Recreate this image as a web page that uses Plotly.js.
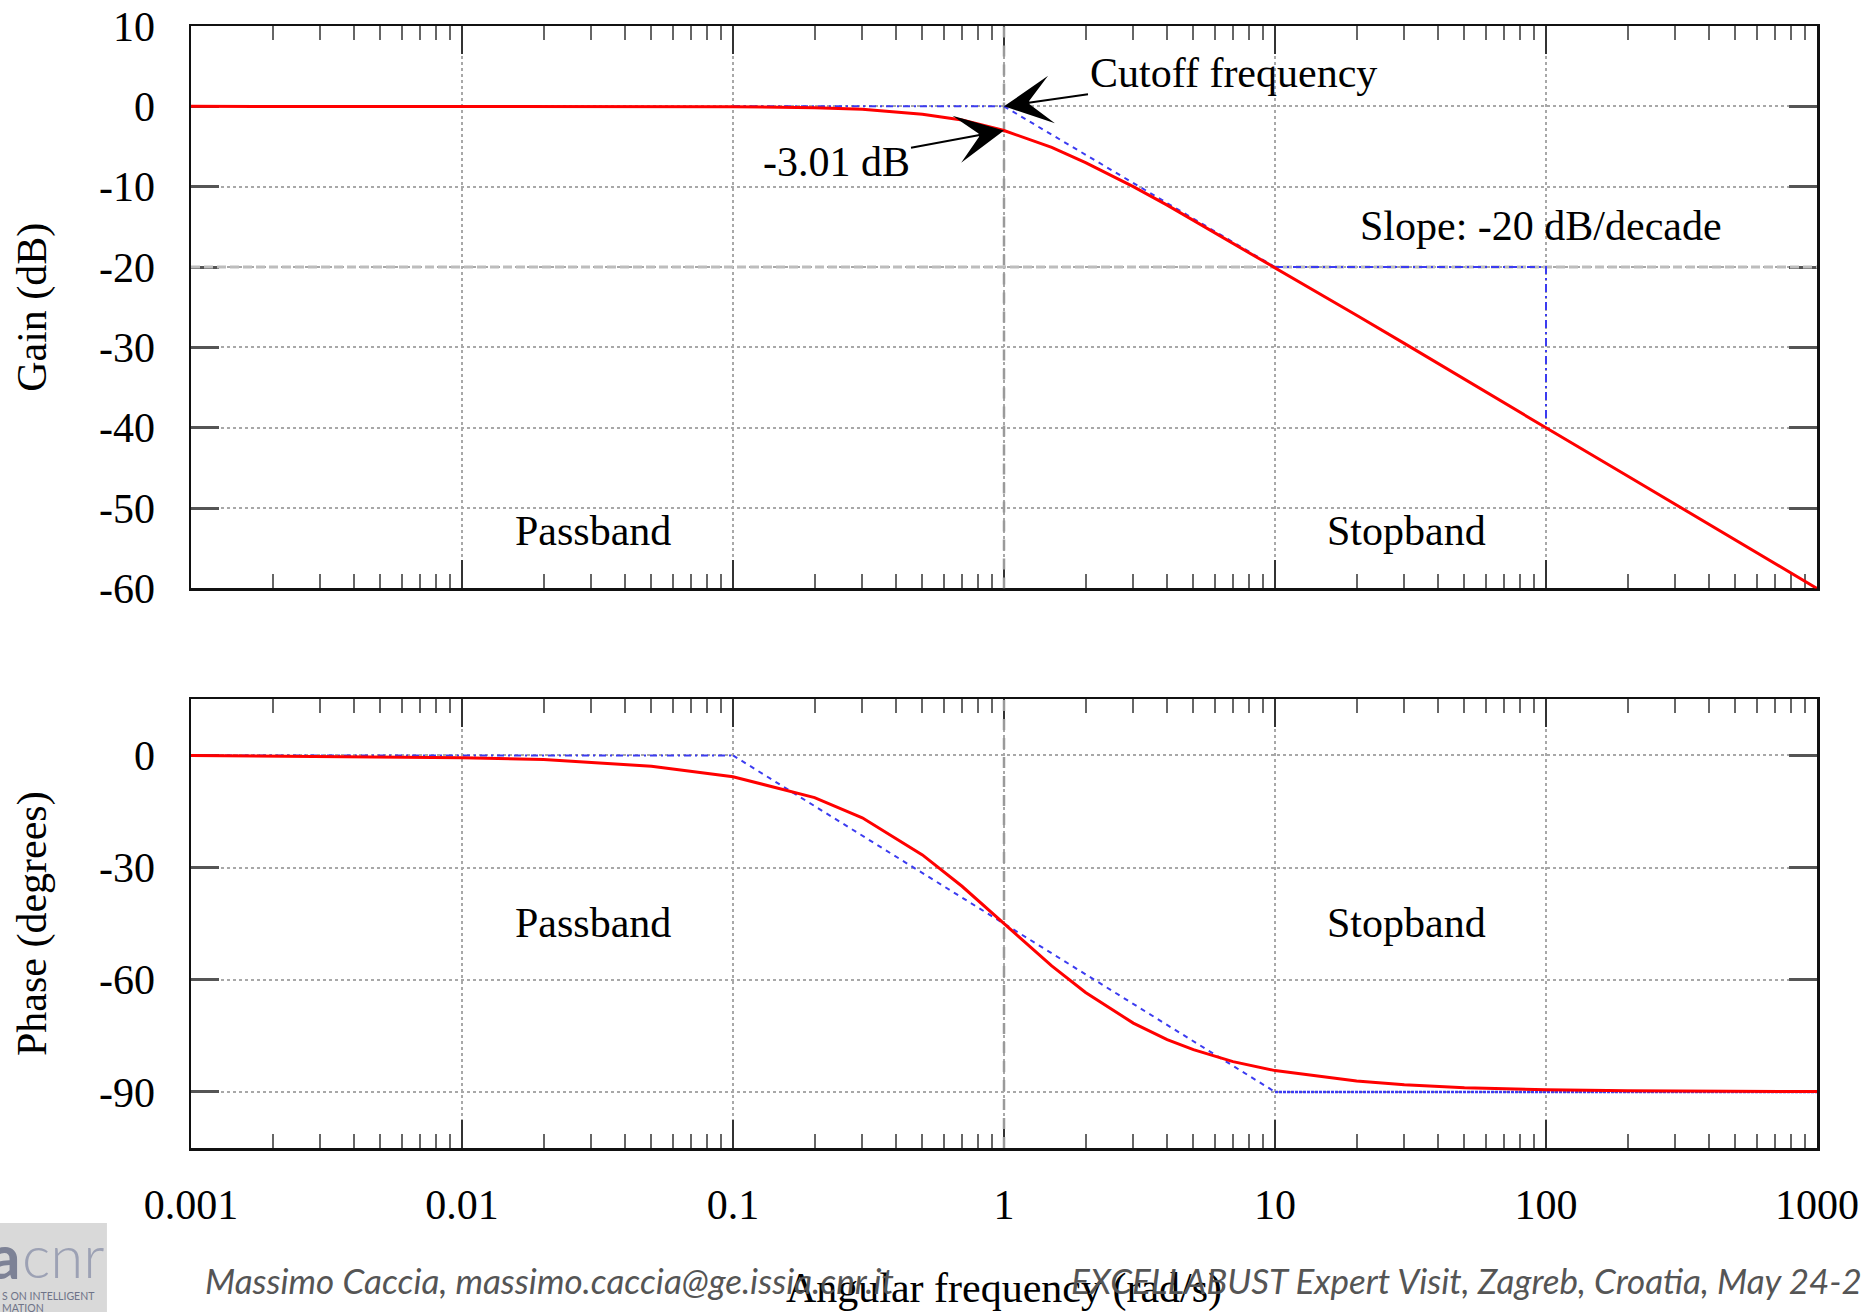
<!DOCTYPE html>
<html>
<head>
<meta charset="utf-8">
<script src="https://cdn.plot.ly/plotly-3.0.1.min.js"></script>
<style>
html,body{margin:0;padding:0;background:#fff;}
#chart{width:1868px;height:1312px;}
</style>
</head>
<body>
<div id="chart"></div>
<script>
// ---- data ----
const freq = [0.001, 0.01, 0.02, 0.05, 0.1, 0.2, 0.3, 0.5, 0.7, 1, 1.5, 2, 3, 4, 5, 7, 10, 20, 30, 50, 70, 100, 200, 300, 500, 700, 1000];
const gainDb = [0, 0, 0, -0.01, -0.04, -0.17, -0.37, -0.97, -1.7, -3.01, -5.1, -7.0, -10.0, -12.3, -14.2, -17.0, -20.0, -26.0, -29.5, -34.0, -36.9, -40.0, -46.0, -49.5, -54.0, -56.9, -60.0];
const phaseDeg = [-0.06, -0.6, -1.1, -2.9, -5.7, -11.3, -16.7, -26.6, -35.0, -45.0, -56.3, -63.4, -71.6, -76.0, -78.7, -81.9, -84.3, -87.1, -88.1, -88.9, -89.2, -89.4, -89.7, -89.8, -89.9, -89.9, -89.9];

// asymptotes
const gainFlatX = [0.1, 1];
const gainFlatY = [0, 0];
const gainSlopeX = [1, 10];
const gainSlopeY = [0, -20];
const slopeTriX = [10, 100, 100];
const slopeTriY = [-20, -20, -40];
const phaseFlatX = [0.001, 0.1];
const phaseFlatY = [0, 0];
const phaseSlopeX = [0.1, 10];
const phaseSlopeY = [0, -90];
const phaseEndX = [10, 1000];
const phaseEndY = [-90, -90];

const cutoffFreq = 1;
const cutoffGain = -3.01;
const refGainLine = -20;

// axes
const xRangeDec = [0.001, 1000];
const gainRange = [-60, 10];
const phaseRange = [-105, 15];
const xTickVals = [0.001, 0.01, 0.1, 1, 10, 100, 1000];
const xTickText = ['0.001', '0.01', '0.1', '1', '10', '100', '1000'];
const gainTickVals = [10, 0, -10, -20, -30, -40, -50, -60];
const gainTickText = ['10', '0', '-10', '-20', '-30', '-40', '-50', '-60'];
const phaseTickVals = [0, -30, -60, -90];
const phaseTickText = ['0', '-30', '-60', '-90'];

// minor tick positions (2..9 in each decade)
const minorTicks = [];
for (let d = -3; d < 3; d++) for (let k = 2; k <= 9; k++) minorTicks.push(k * Math.pow(10, d));

const SERIF = 'Liberation Serif, Times New Roman, serif';
const RED = '#ff0000';
const BLUE = '#3c3cf0';

const traces = [
  // cutoff vertical dashed lines
  {x: [cutoffFreq, cutoffFreq], y: gainRange, xaxis: 'x', yaxis: 'y', mode: 'lines',
   line: {color: '#9a9a9a', width: 2.5, dash: '11px,8px'}, hoverinfo: 'skip'},
  {x: [cutoffFreq, cutoffFreq], y: phaseRange, xaxis: 'x2', yaxis: 'y2', mode: 'lines',
   line: {color: '#9a9a9a', width: 2.5, dash: '11px,8px'}, hoverinfo: 'skip'},
  // -20 dB dashed reference line
  {x: xRangeDec, y: [refGainLine, refGainLine], xaxis: 'x', yaxis: 'y', mode: 'lines',
   line: {color: '#bdbdbd', width: 3, dash: '9px,4px'}, hoverinfo: 'skip'},
  // gain asymptotes
  {x: gainFlatX, y: gainFlatY, xaxis: 'x', yaxis: 'y', mode: 'lines',
   line: {color: BLUE, width: 2, dash: '7px,4px,2px,4px'}},
  {x: gainSlopeX, y: gainSlopeY, xaxis: 'x', yaxis: 'y', mode: 'lines',
   line: {color: BLUE, width: 2, dash: '5px,5px'}},
  {x: slopeTriX, y: slopeTriY, xaxis: 'x', yaxis: 'y', mode: 'lines',
   line: {color: BLUE, width: 2, dash: '8px,4px,2px,4px'}},
  // phase asymptotes
  {x: phaseFlatX, y: phaseFlatY, xaxis: 'x2', yaxis: 'y2', mode: 'lines',
   line: {color: BLUE, width: 2, dash: '7px,4px,2px,4px'}},
  {x: phaseSlopeX, y: phaseSlopeY, xaxis: 'x2', yaxis: 'y2', mode: 'lines',
   line: {color: BLUE, width: 2, dash: '5px,5px'}},
  {x: phaseEndX, y: phaseEndY, xaxis: 'x2', yaxis: 'y2', mode: 'lines',
   line: {color: BLUE, width: 2.5, dash: '3px,1px'}},
  // bode curves
  {x: freq, y: gainDb, xaxis: 'x', yaxis: 'y', mode: 'lines', name: 'Gain',
   line: {color: RED, width: 3}},
  {x: freq, y: phaseDeg, xaxis: 'x2', yaxis: 'y2', mode: 'lines', name: 'Phase',
   line: {color: RED, width: 3}}
];

const xCommon = {
  type: 'log', range: [Math.log10(xRangeDec[0]), Math.log10(xRangeDec[1])],
  tickmode: 'array', tickvals: xTickVals, ticktext: xTickText,
  ticks: 'inside', ticklen: 28, tickwidth: 2, tickcolor: '#333',
  showgrid: true, gridcolor: '#a8a8a8', griddash: 'dot', gridwidth: 2,
  showline: true, linecolor: '#111', linewidth: 2.5, mirror: 'allticks',
  zeroline: false, layer: 'below traces',
  minor: {tickmode: 'array', tickvals: minorTicks, ticks: 'inside', ticklen: 14,
          tickwidth: 2, tickcolor: '#666', showgrid: false},
  tickfont: {family: SERIF, size: 42, color: '#000'}
};
const yCommon = {
  tickmode: 'array', ticks: 'inside', ticklen: 28, tickwidth: 3, tickcolor: '#555',
  showgrid: true, gridcolor: '#a8a8a8', griddash: 'dot', gridwidth: 2,
  showline: true, linecolor: '#111', linewidth: 2.5, mirror: 'allticks',
  zeroline: false, ticklabelstandoff: 25, layer: 'below traces',
  tickfont: {family: SERIF, size: 42, color: '#000'}
};

const annFont = {family: SERIF, size: 42, color: '#000'};
const footFont = {family: 'Lato, Open Sans, sans-serif', size: 35, color: '#555555'};

const layout = {
  width: 1868, height: 1312,
  margin: {l: 191, r: 51, t: 26, b: 164},
  paper_bgcolor: '#fff', plot_bgcolor: '#fff',
  showlegend: false,
  xaxis: Object.assign({}, xCommon, {domain: [0, 1], anchor: 'y', showticklabels: false}),
  yaxis: Object.assign({}, yCommon, {domain: [0.4987, 1], anchor: 'x', range: gainRange,
    tickvals: gainTickVals, ticktext: gainTickText,
    title: {text: 'Gain (dB)', font: {family: SERIF, size: 42, color: '#000'}, standoff: 40}}),
  xaxis2: Object.assign({}, xCommon, {domain: [0, 1], anchor: 'y2', showticklabels: true,
    ticklabelstandoff: 18,
    title: {text: 'Angular frequency (rad/s)', font: {family: SERIF, size: 42, color: '#000'}, standoff: 48}}),
  yaxis2: Object.assign({}, yCommon, {domain: [0, 0.3999], anchor: 'x2', range: phaseRange,
    tickvals: phaseTickVals, ticktext: phaseTickText,
    title: {text: 'Phase (degrees)', font: {family: SERIF, size: 42, color: '#000'}, standoff: 40}}),
  shapes: [
    {type: 'rect', xref: 'paper', yref: 'paper', x0: -0.1175, x1: -0.0517, y0: -0.1462, y1: -0.0668,
     fillcolor: '#d9d9d9', line: {width: 0}, layer: 'below'}
  ],
  annotations: [
    {xref: 'x', yref: 'y', x: Math.log10(cutoffFreq), y: 0, ax: 229, ay: -33,
     text: 'Cutoff frequency', showarrow: true, arrowhead: 3, arrowsize: 4, arrowwidth: 2,
     arrowcolor: '#000', font: annFont},
    {xref: 'x', yref: 'y', x: Math.log10(cutoffFreq), y: cutoffGain, ax: -168, ay: 31,
     text: '-3.01 dB', showarrow: true, arrowhead: 3, arrowsize: 4, arrowwidth: 2,
     arrowcolor: '#000', font: annFont},
    {xref: 'x', yref: 'y', x: 1.983, y: -14.9, text: 'Slope: -20 dB/decade', showarrow: false, font: annFont},
    {xref: 'x', yref: 'y', x: -1.515, y: -52.9, text: 'Passband', showarrow: false, font: annFont},
    {xref: 'x', yref: 'y', x: 1.485, y: -52.9, text: 'Stopband', showarrow: false, font: annFont},
    {xref: 'x2', yref: 'y2', x: -1.515, y: -44.7, text: 'Passband', showarrow: false, font: annFont},
    {xref: 'x2', yref: 'y2', x: 1.485, y: -44.7, text: 'Stopband', showarrow: false, font: annFont},
    // footer
    {xref: 'paper', yref: 'paper', x: 0.0074, y: -0.1177, xanchor: 'left', yanchor: 'middle',
     text: '<i>Massimo Caccia, massimo.caccia@ge.issia.cnr.it</i>', showarrow: false, font: footFont},
    {xref: 'paper', yref: 'paper', x: 0.5400, y: -0.1177, xanchor: 'left', yanchor: 'middle',
     text: '<i>EXCELLABUST Expert Visit, Zagreb, Croatia, May 24-2</i>', showarrow: false, font: footFont},
    // logo
    {xref: 'paper', yref: 'paper', x: -0.1040, y: -0.095, xanchor: 'right', yanchor: 'middle',
     text: '<b>a</b>', showarrow: false, font: {family: 'Lato, sans-serif', size: 62, color: '#7d8296'}},
    {xref: 'paper', yref: 'paper', x: -0.1052, y: -0.095, xanchor: 'left', yanchor: 'middle',
     text: 'cnr', showarrow: false, font: {family: 'Lato, sans-serif', size: 60, color: '#9ca1b4', weight: 300}},
    {xref: 'paper', yref: 'paper', x: -0.1175, y: -0.1320, xanchor: 'left', yanchor: 'middle',
     text: 'S ON INTELLIGENT', showarrow: false, font: {family: 'Lato, sans-serif', size: 10.5, color: '#6e7388'}},
    {xref: 'paper', yref: 'paper', x: -0.1175, y: -0.1425, xanchor: 'left', yanchor: 'middle',
     text: 'MATION', showarrow: false, font: {family: 'Lato, sans-serif', size: 10.5, color: '#6e7388'}}
  ]
};

Plotly.newPlot('chart', traces, layout, {staticPlot: true, displayModeBar: false});
</script>
</body>
</html>
